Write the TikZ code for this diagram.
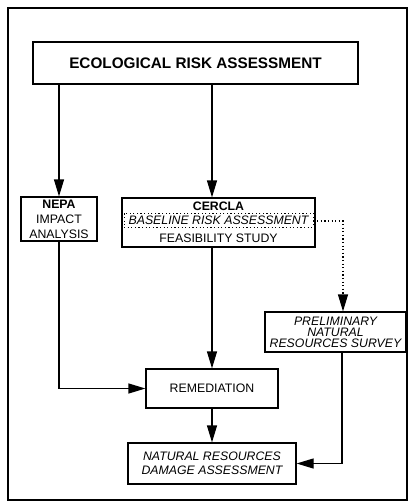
\documentclass[tikz,border=0pt]{standalone}
\usepackage{fontspec}
\setmainfont{Liberation Sans}
\usetikzlibrary{arrows.meta}
\begin{document}
\begin{tikzpicture}[x=1pt,y=-1pt,
  box/.style={draw, line width=1.2pt, inner sep=0pt, align=center, font=\fontsize{12.3}{15}\selectfont},
  lbl/.style={inner sep=0pt, font=\fontsize{12.3}{15}\selectfont},
  arr/.style={line width=1.2pt, -{Triangle[length=17pt,width=10pt]}},
  dotln/.style={line width=1.2pt, dash pattern=on 1.2pt off 2.4pt},
]
\useasboundingbox (0,0) rectangle (409,504);
\draw[line width=2pt] (8,8) rectangle (407,500);

\node[box, minimum width=325pt, minimum height=42pt, font=\fontsize{15.3}{18}\selectfont\bfseries] (era) at (195.5,63) {ECOLOGICAL RISK ASSESSMENT};

\node[box, minimum width=76pt, minimum height=44pt] (nepa) at (59,219) {\textbf{NEPA}\\IMPACT\\ANALYSIS};

\node[box, minimum width=193pt, minimum height=49pt] (cercla) at (218.5,222.5) {};
\node[lbl, font=\fontsize{12.3}{15}\selectfont\bfseries] (cerclat) at (218.5,206) {CERCLA};
\node[lbl, draw, dotln, line width=1pt, minimum width=189pt, minimum height=14pt, font=\fontsize{12.3}{15}\selectfont\itshape] (bra) at (218.5,220) {BASELINE RISK ASSESSMENT};
\node[lbl] (fs) at (218.5,238) {FEASIBILITY STUDY};

\node[box, minimum width=132pt, minimum height=39pt] (rem) at (212,388.5) {REMEDIATION};
\node[box, minimum width=168pt, minimum height=41pt, font=\fontsize{12.3}{14}\selectfont\itshape] (nrda) at (212,463.5) {NATURAL RESOURCES\\DAMAGE ASSESSMENT};
\node[box, minimum width=141pt, minimum height=40pt, font=\fontsize{12.3}{11}\selectfont\itshape] (pnrs) at (335.5,332) {PRELIMINARY\\NATURAL\\RESOURCES SURVEY};

\coordinate (dx) at (343,221);
\coordinate (px) at (342,0);

\draw[arr] (era.south -| nepa.north) -- (nepa.north);
\draw[arr] (era.south -| rem.north) -- (rem.north |- cercla.north);
\draw[arr] (cercla.south -| rem.north) -- (rem.north);
\draw[arr] (nepa.south) |- (rem.west);
\draw[arr] (rem.south) -- (nrda.north);
\draw[arr] (pnrs.south -| px) |- (nrda.east);
\draw[dotln, -{Triangle[length=17pt,width=10pt]}] (bra.east |- dx) -- (dx) -- (dx |- pnrs.north);
\end{tikzpicture}
\end{document}
